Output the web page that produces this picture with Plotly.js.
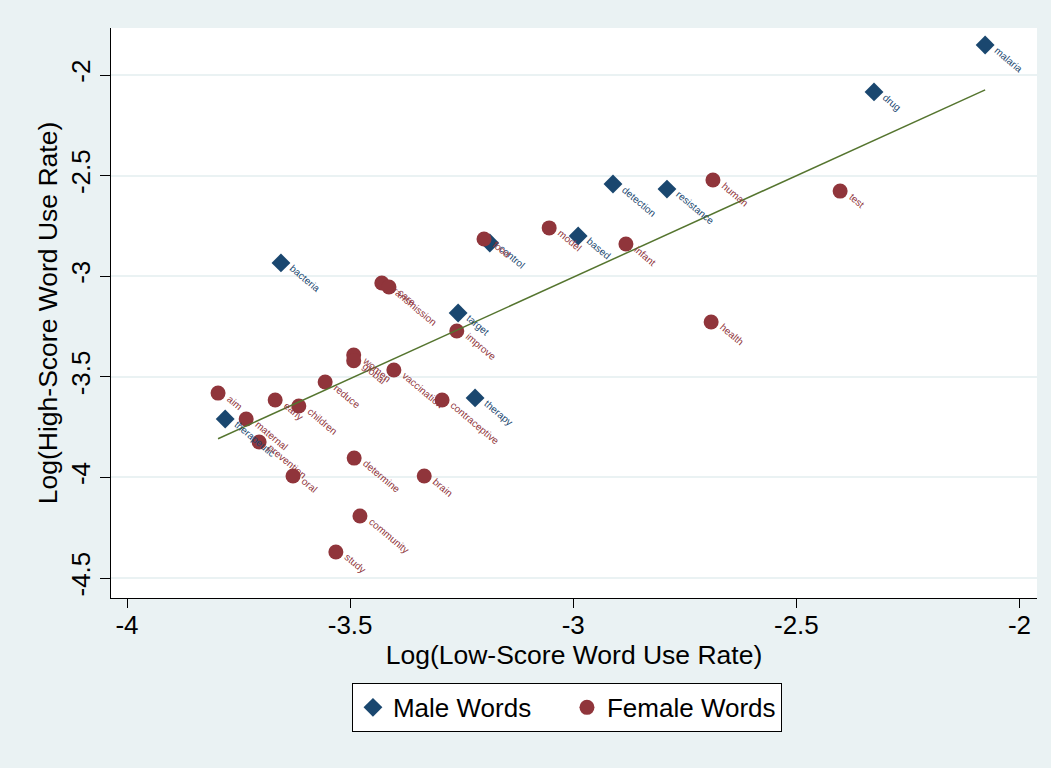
<!DOCTYPE html>
<html>
<head>
<meta charset="utf-8">
<script src="https://cdn.plot.ly/plotly-3.0.1.min.js"></script>
<style>
  html, body { margin: 0; padding: 0; background: #eaf2f3; }
  #chart { width: 1051px; height: 768px; }
</style>
</head>
<body>
<div id="chart"></div>
<script>
// Words used more by male-associated groups
const maleWords = ['malaria', 'drug', 'detection', 'resistance', 'based', 'control',
  'bacteria', 'target', 'therapy', 'therapeutic'];
const maleLow = [-2.077, -2.326, -2.911, -2.790, -2.989, -3.187,
  -3.655, -3.258, -3.220, -3.780];
const maleHigh = [-1.851, -2.084, -2.542, -2.567, -2.800, -2.835,
  -2.934, -3.183, -3.605, -3.710];

// Words used more by female-associated groups
const femaleWords = ['human', 'test', 'model', 'food', 'infant', 'transmission', 'care',
  'health', 'improve', 'women', 'global', 'vaccination', 'reduce', 'aim', 'early',
  'children', 'contraceptive', 'maternal', 'prevention', 'oral', 'determine', 'brain',
  'community', 'study'];
const femaleLow = [-2.687, -2.402, -3.054, -3.200, -2.882, -3.429, -3.413,
  -2.691, -3.261, -3.492, -3.492, -3.402, -3.556, -3.796, -3.668,
  -3.615, -3.294, -3.733, -3.704, -3.628, -3.491, -3.334,
  -3.478, -3.532];
const femaleHigh = [-2.522, -2.577, -2.760, -2.815, -2.840, -3.034, -3.054,
  -3.228, -3.272, -3.392, -3.420, -3.466, -3.526, -3.581, -3.615,
  -3.645, -3.615, -3.710, -3.824, -3.993, -3.904, -3.993,
  -4.192, -4.371];

// Linear fit of high-score on low-score log rates
const fitIntercept = 0.022;
const fitSlope = 1.009;

const xTicks = [-4, -3.5, -3, -2.5, -2];
const yTicks = [-2, -2.5, -3, -3.5, -4, -4.5];

const BLUE = '#1a476f';
const RED = '#90353b';
const GREEN = '#55752f';
const BG = '#eaf2f3';
const FAMILY = 'Liberation Sans, Arial, sans-serif';

const allX = maleLow.concat(femaleLow);
const xMin = Math.min(...allX);
const xMax = Math.max(...allX);

const traces = [
  {
    x: maleLow, y: maleHigh, type: 'scatter', mode: 'markers', name: 'Male Words',
    marker: { symbol: 'diamond', size: 14.5, color: BLUE }
  },
  {
    x: femaleLow, y: femaleHigh, type: 'scatter', mode: 'markers', name: 'Female Words',
    marker: { symbol: 'circle', size: 15, color: RED }
  },
  {
    x: [xMin, xMax],
    y: [fitIntercept + fitSlope * xMin, fitIntercept + fitSlope * xMax],
    type: 'scatter', mode: 'lines', showlegend: false, hoverinfo: 'skip',
    line: { color: GREEN, width: 1.5 }
  }
];

// Slanted word labels beside each marker
function labels(words, xs, ys, color) {
  return words.map((w, i) => ({
    x: xs[i], y: ys[i], xref: 'x', yref: 'y', text: w, showarrow: false,
    xanchor: 'left', yanchor: 'top', textangle: 40, xshift: 4, yshift: 3,
    font: { family: FAMILY, size: 10, color: color }
  }));
}

const annotations = labels(maleWords, maleLow, maleHigh, BLUE)
  .concat(labels(femaleWords, femaleLow, femaleHigh, RED));

const layout = {
  width: 1051, height: 768,
  paper_bgcolor: BG, plot_bgcolor: '#ffffff',
  margin: { l: 111, r: 14, t: 28, b: 170, pad: 0 },
  font: { family: FAMILY, color: '#000000' },
  showlegend: true,
  xaxis: {
    range: [-4.0359, -1.9608],
    tickvals: xTicks, ticktext: xTicks.map(String),
    ticks: 'outside', ticklen: 9, tickcolor: '#000', tickwidth: 1,
    ticklabelstandoff: -5,
    showline: true, linecolor: '#000', linewidth: 1, mirror: false,
    showgrid: false, zeroline: false,
    tickfont: { size: 26, family: FAMILY, color: '#000' },
    title: { text: 'Log(Low-Score Word Use Rate)', font: { size: 26.5, family: FAMILY, color: '#000' }, standoff: 2 }
  },
  yaxis: {
    range: [-4.5994, -1.7664],
    tickvals: yTicks, ticktext: yTicks.map(String),
    tickangle: -90,
    ticks: 'outside', ticklen: 10, tickcolor: '#000', tickwidth: 1,
    showline: true, linecolor: '#000', linewidth: 1, mirror: false,
    showgrid: true, gridcolor: BG, gridwidth: 2, zeroline: false,
    tickfont: { size: 26, family: FAMILY, color: '#000' },
    title: { text: 'Log(High-Score Word Use Rate)', font: { size: 26.5, family: FAMILY, color: '#000' }, standoff: 0 }
  },
  legend: {
    orientation: 'h', x: 0.4924, xanchor: 'center', y: -0.149, yanchor: 'top',
    bgcolor: '#ffffff', bordercolor: '#000000', borderwidth: 1,
    entrywidth: 169, entrywidthmode: 'pixels',
    font: { size: 26, family: FAMILY, color: '#000' }
  },
  annotations: annotations
};

Plotly.newPlot('chart', traces, layout, { displayModeBar: false, staticPlot: true });
</script>
</body>
</html>
